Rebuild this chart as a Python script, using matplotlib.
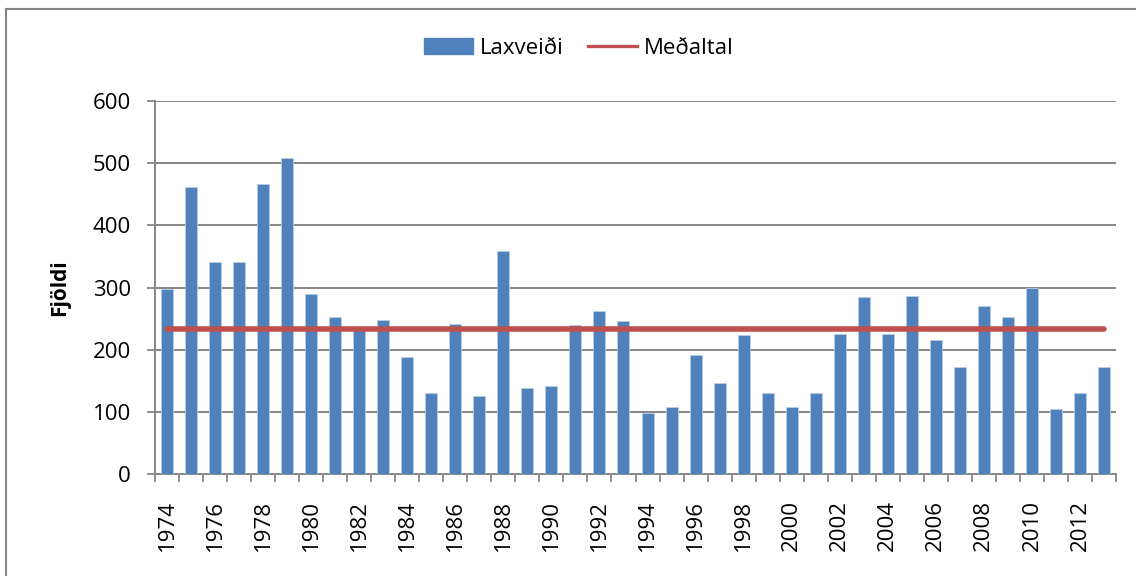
import matplotlib
matplotlib.use("Agg")
import matplotlib.pyplot as plt
from matplotlib.lines import Line2D
import numpy as np

years = list(range(1974, 2014))
laxveidi = [297, 461, 341, 341, 467, 509, 290, 252, 231, 248,
            188, 130, 242, 126, 358, 139, 142, 239, 262, 246,
            98, 107, 191, 146, 223, 130, 107, 130, 226, 284,
            226, 287, 216, 172, 271, 252, 300, 104, 130, 172]
medaltal = 234
yticks = [0, 100, 200, 300, 400, 500, 600]

plt.rcParams['font.family'] = ['Open Sans', 'DejaVu Sans']

W, H = 1136, 576
fig = plt.figure(figsize=(W / 100, H / 100), dpi=100)
ax = fig.add_axes([155 / W, 1 - 474 / H, (1116 - 155) / W, (474 - 101) / H])

x = np.arange(len(years))
ax.bar(x, laxveidi, width=0.5, color='#4F81BD', edgecolor='#B9CDE5',
       linewidth=0.6, zorder=3, label='Laxveiði')
ax.plot([x[0], x[-1]], [medaltal, medaltal], color='#C0504D', lw=4.0,
        solid_capstyle='round', zorder=4, label='Meðaltal')

ax.set_xlim(-0.5, len(years) - 0.5)
ax.set_ylim(0, 600)
ax.set_yticks(yticks)
ax.set_yticklabels([str(v) for v in yticks], fontsize=16)
ax.yaxis.grid(True, color='#868686', lw=1.4, zorder=0)
ax.set_axisbelow(True)

# category boundary tick marks
ax.set_xticks(np.arange(-0.5, len(years), 1), minor=False)
ax.set_xticklabels([])
ax.tick_params(axis='x', which='major', length=6, width=1.3, color='#868686')
ax.set_xticks(x[::2], minor=True)
ax.set_xticklabels([str(y) for y in years[::2]], minor=True, rotation=90,
                   fontsize=16)
ax.tick_params(axis='x', which='minor', length=0, pad=19)
ax.tick_params(axis='y', length=5.5, width=1.3, color='#868686', pad=12)

for s in ['top', 'right']:
    ax.spines[s].set_visible(False)
for s in ['left', 'bottom']:
    ax.spines[s].set_color('#868686')
    ax.spines[s].set_linewidth(1.4)

ax.set_ylabel('Fjöldi', fontsize=15, fontweight='bold', labelpad=16)

handles = [plt.Rectangle((0, 0), 1, 1, color='#4F81BD'),
           Line2D([0], [0], color='#C0504D', lw=2.4)]
fig.legend(handles, ['Laxveiði', 'Meðaltal'], loc='center',
           bbox_to_anchor=(579 / W, 1 - 48 / H), ncol=2, frameon=False,
           fontsize=16, handlelength=2.2, handleheight=0.7,
           handletextpad=0.3, columnspacing=1.1)

# outer chart border
fig.add_artist(Line2D([6 / W, 6 / W], [0, 1 - 9 / H], transform=fig.transFigure,
                      color='#868686', lw=1.5))
fig.add_artist(Line2D([6 / W, 1], [1 - 9 / H, 1 - 9 / H], transform=fig.transFigure,
                      color='#868686', lw=1.5))

fig.savefig('out.png', dpi=100, facecolor='white')
